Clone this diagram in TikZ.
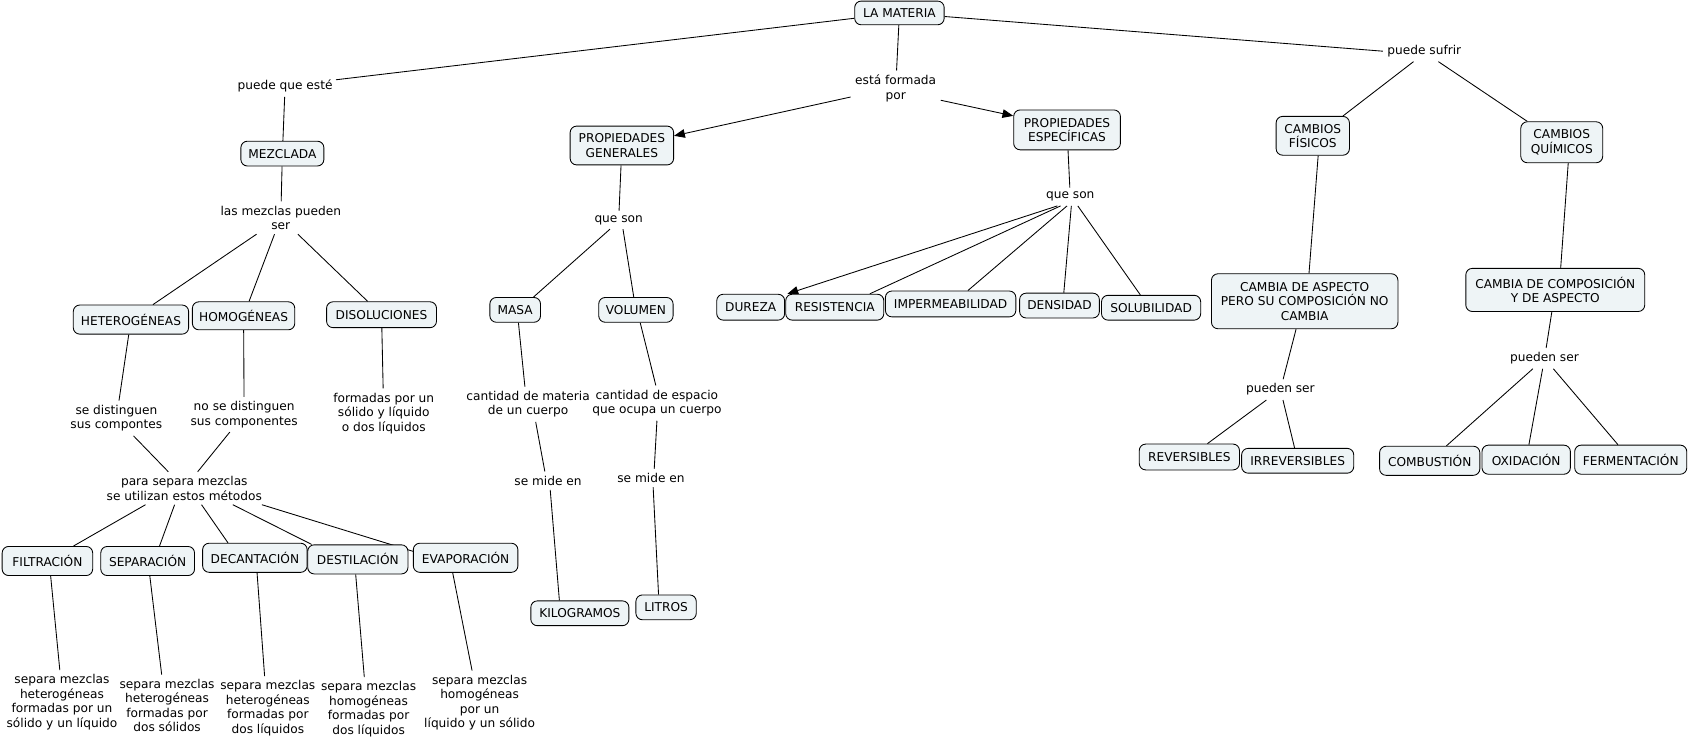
\documentclass[tikz,border=0pt]{standalone}
\usepackage{fontspec}
\setmainfont{DejaVu Sans}
\usetikzlibrary{arrows.meta,calc,backgrounds}
\definecolor{boxfill}{RGB}{238,244,246}
\tikzset{
  every node/.style={font=\fontsize{11.3pt}{13.4pt}\selectfont, text=black},
  box/.style={draw=black, line width=0.8pt, rounded corners=6pt, fill=boxfill, align=center, inner xsep=2pt, inner ysep=1pt},
  lab/.style={align=center, inner sep=4pt},
  conn/.style={draw=black, line width=0.8pt},
  arr/.style={conn, -{Triangle[length=10pt,width=8pt]}}
}
\begin{document}
\begin{tikzpicture}[x=1pt,y=-1pt]
\useasboundingbox (0,0) rectangle (1568,694);
% nodes
\node[box, minimum width=83pt, minimum height=22pt] (mat) at (834.5,12) {LA MATERIA};
\node[lab] (pqe) at (264.5,80) {puede que esté};
\node[box, minimum width=77pt, minimum height=23pt] (mez) at (262,142.5) {MEZCLADA};
\node[lab] (lmp) at (260.5,202) {las mezclas pueden\\ser};
\node[box, minimum width=107pt, minimum height=27pt] (het) at (121.5,296.5) {HETEROGÉNEAS};
\node[box, minimum width=95pt, minimum height=26pt] (hom) at (226,293) {HOMOGÉNEAS};
\node[box, minimum width=102pt, minimum height=24pt] (dis) at (354,292) {DISOLUCIONES};
\node[lab] (sd) at (108,388) {se distinguen\\sus compontes};
\node[lab] (nsd) at (226.5,384.5) {no se distinguen\\sus componentes};
\node[lab] (form) at (356,383.5) {formadas por un\\sólido y líquido\\o dos líquidos};
\node[lab] (para) at (171,453) {para separa mezclas\\se utilizan estos métodos};
\node[box, minimum width=84pt, minimum height=27pt] (filt) at (44,520.5) {FILTRACIÓN};
\node[box, minimum width=87pt, minimum height=27pt] (sep) at (137,520.5) {SEPARACIÓN};
\node[box, minimum width=97pt, minimum height=27pt] (dec) at (236.5,517.5) {DECANTACIÓN};
\node[box, minimum width=93pt, minimum height=27pt] (dest) at (332,519) {DESTILACIÓN};
\node[box, minimum width=97pt, minimum height=27pt] (evap) at (432,517.5) {EVAPORACIÓN};
\node[lab] (t1) at (57.5,651.5) {separa mezclas\\heterogéneas\\formadas por un\\sólido y un líquido};
\node[lab] (t2) at (155,654.5) {separa mezclas\\heterogéneas\\formadas por\\dos sólidos};
\node[lab] (t3) at (248.5,657) {separa mezclas\\heterogéneas\\formadas por\\dos líquidos};
\node[lab] (t4) at (342,658) {separa mezclas\\homogéneas\\formadas por\\dos líquidos};
\node[lab] (t5) at (445,652) {separa mezclas\\homogéneas\\por un\\líquido y un sólido};
\node[lab] (efp) at (831,82) {está formada\\por};
\node[box, minimum width=96pt, minimum height=36pt] (pg) at (577,135) {PROPIEDADES\\GENERALES};
\node[box, minimum width=99pt, minimum height=37pt] (pe) at (990,120.5) {PROPIEDADES\\ESPECÍFICAS};
\node[lab] (qs1) at (574,204) {que son};
\node[box, minimum width=47pt, minimum height=23pt] (masa) at (478,287.5) {MASA};
\node[box, minimum width=69pt, minimum height=23pt] (vol) at (590,287.5) {VOLUMEN};
\node[lab] (cm) at (490,375) {cantidad de materia\\de un cuerpo};
\node[lab] (ce) at (609.5,374) {cantidad de espacio\\que ocupa un cuerpo};
\node[lab] (smm) at (508.5,446) {se mide en};
\node[lab] (smv) at (604,443.5) {se mide en};
\node[box, minimum width=91pt, minimum height=23pt] (kilo) at (538,569) {KILOGRAMOS};
\node[box, minimum width=56pt, minimum height=23pt] (lit) at (618,563.5) {LITROS};
\node[lab] (qs2) at (993,182.5) {que son};
\node[box, minimum width=63pt, minimum height=24pt] (dur) at (696.5,285) {DUREZA};
\node[box, minimum width=91pt, minimum height=24pt] (res) at (774.5,285) {RESISTENCIA};
\node[box, minimum width=121pt, minimum height=24pt] (imp) at (882,282) {IMPERMEABILIDAD};
\node[box, minimum width=74pt, minimum height=23pt] (den) at (983,283.5) {DENSIDAD};
\node[box, minimum width=92pt, minimum height=23pt] (sol) at (1068,285.5) {SOLUBILIDAD};
\node[lab] (ps) at (1321.5,47.5) {puede sufrir};
\node[box, minimum width=68pt, minimum height=36pt] (cf) at (1218,126) {CAMBIOS\\FÍSICOS};
\node[box, minimum width=76pt, minimum height=38pt] (cq) at (1449,132) {CAMBIOS\\QUÍMICOS};
\node[box, minimum width=173pt, minimum height=51pt] (ca) at (1210.5,279.5) {CAMBIA DE ASPECTO\\PERO SU COMPOSICIÓN NO\\CAMBIA};
\node[box, minimum width=166pt, minimum height=40pt] (cc) at (1443,269) {CAMBIA DE COMPOSICIÓN\\Y DE ASPECTO};
\node[lab] (pus1) at (1188,361.5) {pueden ser};
\node[lab] (pus2) at (1433,332.5) {pueden ser};
\node[box, minimum width=93pt, minimum height=24pt] (rev) at (1103.5,424) {REVERSIBLES};
\node[box, minimum width=104pt, minimum height=23pt] (irr) at (1204,427.5) {IRREVERSIBLES};
\node[box, minimum width=93pt, minimum height=27pt] (comb) at (1326.5,427.5) {COMBUSTIÓN};
\node[box, minimum width=82pt, minimum height=27pt] (oxid) at (1416,426.5) {OXIDACIÓN};
\node[box, minimum width=104pt, minimum height=27pt] (ferm) at (1513,426.5) {FERMENTACIÓN};
% connectors
\begin{pgfonlayer}{background}
\fill[white] (0,0) rectangle (1568,694);
\draw[conn] (mat) -- ($(pqe.east)+(-1,-6)$);
\draw[conn] (pqe) -- (mez);
\draw[conn] (mez) -- (lmp);
\draw[conn] (lmp) -- (het);
\draw[conn] (lmp) -- (hom);
\draw[conn] (lmp) -- (dis);
\draw[conn] (het) -- (sd);
\draw[conn] (hom) -- (nsd);
\draw[conn] (dis) -- (form);
\draw[conn] (sd) -- (para);
\draw[conn] (nsd) -- (para);
\draw[conn] ($(para.south)+(-36,0)$) -- (filt);
\draw[conn] ($(para.south)+(-9,0)$) -- ($(sep.north)+(11,0)$);
\draw[conn] ($(para.south)+(16,0)$) -- ($(dec.north)+(-25,0)$);
\draw[conn] ($(para.south)+(45,0)$) -- ($(dest.north west)+(4,0)$);
\draw[conn] ($(para.south)+(72,0)$) -- ($(evap.west)+(0,-6)$);
\draw[conn] ($(filt.south)+(3,0)$) -- ($(t1.north)+(-2,0)$);
\draw[conn] ($(sep.south)+(2,0)$) -- ($(t2.north)+(-5,0)$);
\draw[conn] ($(dec.south)+(2,0)$) -- ($(t3.north)+(-3,0)$);
\draw[conn] ($(dest.south)+(-2,0)$) -- ($(t4.north)+(-4,0)$);
\draw[conn] ($(evap.south)+(-12,0)$) -- ($(t5.north)+(-7,0)$);
\draw[conn] (mat) -- (efp);
\draw[arr] ($(efp.west)+(0,8)$) -- ($(pg.east)+(0,-9)$);
\draw[arr] ($(efp.east)+(0,11)$) -- ($(pe.west)+(0,-13)$);
\draw[conn] (pg) -- (qs1);
\draw[conn] ($(qs1.south)+(-8,0)$) -- ($(masa.north)+(17,0)$);
\draw[conn] ($(qs1.south)+(4,0)$) -- ($(vol.north)+(-2,0)$);
\draw[conn] ($(masa.south)+(3,0)$) -- ($(cm.north)+(-3,0)$);
\draw[conn] ($(vol.south)+(4,0)$) -- ($(ce.north)+(-1,0)$);
\draw[conn] ($(cm.south)+(7,0)$) -- ($(smm.north)+(-3,0)$);
\draw[conn] (ce.south) -- ($(smv.north)+(3,0)$);
\draw[conn] ($(smm.south)+(2,0)$) -- ($(kilo.north)+(-19,0)$);
\draw[conn] ($(smv.south)+(2,0)$) -- ($(lit.north)+(-7,0)$);
\draw[conn] (pe) -- (qs2);
\draw[arr] ($(qs2.south)+(-12,0)$) -- ($(res.north west)+(2,0)$);
\draw[conn] ($(qs2.south)+(-9,0)$) -- ($(res.north)+(32.5,0)$);
\draw[conn] ($(qs2.south)+(-3,0)$) -- ($(imp.north)+(16,0)$);
\draw[conn] ($(qs2.south)+(1,0)$) -- ($(den.north)+(4,0)$);
\draw[conn] ($(qs2.south)+(7,0)$) -- ($(sol.north)+(-10,0)$);
\draw[conn] (mat) -- (ps.west);
\draw[conn] ($(ps.south)+(-10,0)$) -- ($(cf.north)+(28,0)$);
\draw[conn] ($(ps.south)+(13,0)$) -- ($(cq.north)+(-32,0)$);
\draw[conn] ($(cf.south)+(5,0)$) -- ($(ca.north)+(4,0)$);
\draw[conn] ($(cq.south)+(6,0)$) -- ($(cc.north)+(5,0)$);
\draw[conn] ($(ca.south)+(-8,0)$) -- (pus1);
\draw[conn] (pus1) -- (rev);
\draw[conn] (pus1) -- (irr);
\draw[conn] (cc) -- (pus2);
\draw[conn] (pus2) -- (comb);
\draw[conn] (pus2) -- (oxid);
\draw[conn] (pus2) -- (ferm);
\end{pgfonlayer}
\end{tikzpicture}
\end{document}
